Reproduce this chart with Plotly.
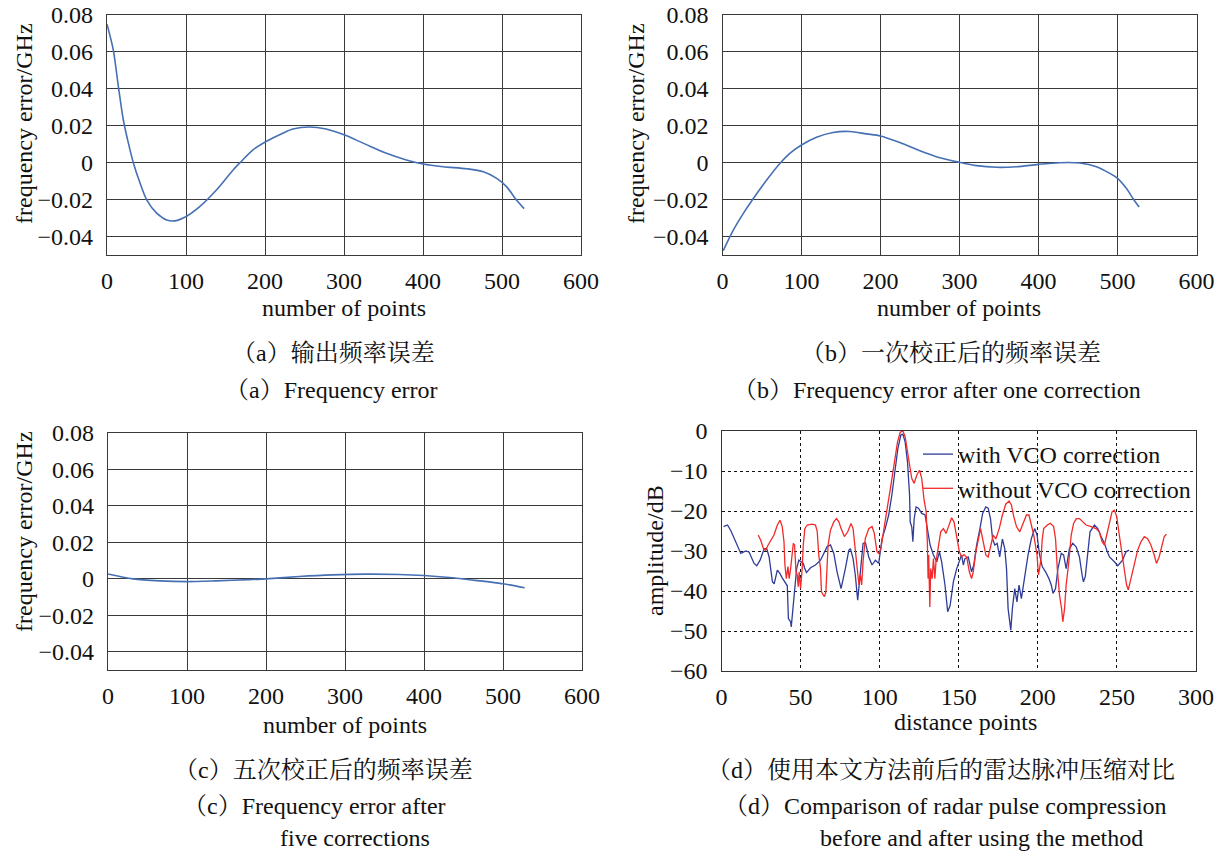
import plotly.graph_objects as go

# ---------------- data ----------------
a_x = [0, 8, 14.3, 20.6, 27, 33.3, 41.8, 50.2, 62.9, 75.5, 86, 100.8, 117.7, 138.8, 159.9, 168.4, 185.2, 202,
       223.2, 235.2, 256.2, 277.3, 300, 324.2, 353.7, 379, 400, 425.7, 455.3, 476.4, 493.3, 506, 518.6, 528]
a_y = [0.075, 0.061, 0.0415, 0.0234, 0.0107, 0, -0.011, -0.0201, -0.0273, -0.031, -0.0315, -0.029, -0.0237,
       -0.0147, -0.0038, 0, 0.0071, 0.0116, 0.0161, 0.0182, 0.0193, 0.0182, 0.0151, 0.0106, 0.0051, 0.0015,
       -0.0007, -0.0022, -0.0033, -0.0049, -0.0085, -0.0131, -0.0204, -0.0249]

b_x = [1, 13.5, 26.2, 38.8, 55.7, 72.6, 85.2, 100, 119, 140, 161.2, 182.3, 200, 224.5, 249.8, 275.1, 300,
       321.5, 346.8, 372.2, 400, 427, 452.3, 473.4, 490.3, 500, 511.4, 519.8, 527.4]
b_y = [-0.0476, -0.0367, -0.0276, -0.0195, -0.0095, -0.0004, 0.0051, 0.0096, 0.0138, 0.0164, 0.0169, 0.0156,
       0.0145, 0.0109, 0.0065, 0.0027, 0.0002, -0.0016, -0.0025, -0.0022, -0.0009, 0, -0.0002, -0.0022,
       -0.0058, -0.0085, -0.014, -0.0195, -0.024]

c_x = [0, 31.6, 65.4, 100, 136.7, 179, 200, 242.2, 284.4, 326.6, 368.8, 400, 432.5, 457.8, 500, 527.4]
c_y = [0.0027, 0, -0.0011, -0.0015, -0.0011, -0.0004, 0, 0.0013, 0.0022, 0.0026, 0.0024, 0.0018, 0.0007,
       -0.0005, -0.0027, -0.0049]

d_with_x = [1.3, 3.8, 6, 10.1, 12.2, 15.4, 17.5, 20.6, 22.3, 24.4,
            27, 28.6, 30.1, 32.2, 33.3, 35.3, 36.9, 38.4, 40.6, 41.6,
            42.3, 43.7, 44.1, 45.4, 46.2, 47.5, 48.9, 50, 51.7, 52.5,
            53.7, 56.3, 59.4, 62.6, 64.7, 66.8, 68.9, 71, 73.1, 75.6,
            78.3, 80.5, 81.5, 83.2, 84.6, 86.1, 87.4, 89.5, 91, 93.1,
            95.2, 97.3, 99.4, 100.4, 101.5, 103.5, 105.7, 107.7, 109.8, 111.5,
            113.4, 114.7, 116.1, 117.6, 118.9, 119.3, 120.3, 121, 121.8, 123,
            124.5, 126.6, 128.7, 130.2, 131.9, 134, 136.1, 137.8, 139.2, 141.3,
            143, 144.5, 146.6, 148.7, 150.4, 151.8, 152.9, 153.9, 156, 158.1,
            159.5, 161.3, 163.4, 165.1, 167.1, 168.6, 170.1, 171.4, 172.8, 174.3,
            175.9, 177.6, 179.1, 180.2, 181.2, 182.2, 182.9, 183.9, 185.4, 186.8,
            188.1, 189.6, 191.7, 193.8, 195.9, 198, 199.5, 201.1, 202.8, 204.9,
            207, 208.5, 209.6, 211.2, 212.7, 214.8, 216.3, 217.9, 220, 222.1,
            224.3, 226.3, 228, 228.8, 230, 231.6, 233, 235.8, 237.9, 240,
            242.1, 243.6, 245.3, 248.4, 250.5, 253.6, 255.7, 257.8]
d_with_y = [-23.9, -23.5, -25, -28.5, -30.6, -30, -30.3, -33.1, -33.7, -32.3,
            -29.4, -29.4, -31.5, -37.7, -38.2, -34.8, -35.6, -36.7, -38.1, -38.7,
            -46.9, -47.7, -49, -43.5, -38.3, -34.4, -32.3, -32.6, -33.1, -34.2,
            -35.4, -34.2, -33.5, -32.3, -30.6, -28.9, -28.5, -30.6, -35.3, -39.4,
            -34.4, -29.8, -29.4, -31.9, -36, -42.3, -36.9, -28.1, -27.9, -31.5,
            -33.5, -32.3, -33.1, -30.2, -26.9, -24.4, -21, -16, -10.2, -4.4,
            -1.0, -0.8, -2.7, -7.7, -16, -22.7, -24, -27.7, -22, -19,
            -19.3, -20.6, -21, -24.4, -28.5, -31, -32.7, -30.2, -32.7, -38.5,
            -45.2, -43.7, -37.7, -34.4, -32.3, -31, -33.5, -31.9, -31.5, -35.2,
            -33.5, -28.5, -24.4, -20.6, -19, -19.3, -22, -27, -28.5, -28.1,
            -31.5, -27, -29.4, -34.4, -44.4, -47.7, -49.8, -44.4, -39.4, -42.7,
            -38.5, -41.9, -36.4, -31, -26.9, -24.4, -26, -31, -33.9, -35.2,
            -36.9, -38.5, -40.6, -39.4, -34.4, -30.6, -31, -34.4, -29.4, -28.1,
            -29, -31.5, -36, -37.7, -36.4, -31, -25.2, -23.5, -24.4, -26.4,
            -28.1, -29.8, -31.5, -32.7, -33.7, -32.3, -30.2, -29.8]

d_without_x = [23.2, 24.8, 26.5, 27.8, 29.5, 31.1, 33.2, 35.3, 37, 38.4,
               39.5, 40.1, 41, 42, 42.8, 43.7, 44.7, 45.4, 46.2, 47.1,
               47.9, 48.5, 49.1, 50, 51, 51.7, 52.7, 54.2, 57.4, 59.4,
               60.5, 61.5, 62.6, 63.2, 64.3, 65.1, 66, 66.8, 67.4, 68.9,
               71, 72.7, 74.2, 75.6, 77.7, 79.8, 81.9, 83.2, 84.6, 86.1,
               86.9, 87.8, 88.6, 89.5, 90.9, 93.1, 95.2, 96.6, 98.3, 99.4,
               100.8, 102.1, 103.5, 105, 106.7, 108.4, 109.8, 111.3, 113, 114.7,
               116.1, 117.6, 118.9, 120.3, 121.8, 123.5, 125.2, 126.6, 128.1, 129.4,
               130.2, 130.6, 131, 131.7, 132.3, 133.2, 134, 134.9, 135.6, 137.1,
               138.6, 140.3, 142, 143.5, 145.5, 147, 148.7, 150.4, 151.8, 153.3,
               155, 156.7, 158.1, 159.2, 160.8, 162.3, 163.8, 165.5, 167.1, 168.6,
               169.7, 171.8, 173.4, 175.6, 177.6, 179.7, 181.8, 183.3, 184.8, 186.5,
               188.6, 190.7, 192.8, 194.4, 195.9, 197.4, 199.5, 200.4, 201.1, 202,
               202.8, 203.7, 206, 207.9, 210, 211.2, 212.3, 213.7, 215, 215.8,
               216.9, 217.9, 219.6, 221.1, 222.6, 224.3, 226.3, 228.4, 230.5, 233.7,
               236.8, 238.9, 240.6, 242.1, 243.6, 245.2, 246.9, 248.4, 249.9, 251.5,
               253.2, 254.7, 256.1, 257.2, 258.8, 261, 263.1, 265.2, 267.3, 269.4,
               271.5, 273.6, 275, 276.7, 278.4, 279.9, 281.3]
d_without_y = [-26, -27.3, -29.4, -29.8, -28.5, -27.3, -26, -23.5, -22.3, -23.9,
               -27.7, -33.5, -36.9, -33.9, -36.9, -34.4, -29.4, -28.1, -28.5, -35.2,
               -36, -38.9, -35.2, -39.4, -34.4, -28.5, -24.4, -23.5, -23.3, -23.5,
               -25, -31, -34.4, -40.2, -41, -41.4, -40.2, -34.4, -28.5, -24.8,
               -22.7, -21.9, -22.7, -24.4, -26.4, -25.2, -23.1, -24.4, -30.2, -35.2,
               -38.5, -36, -38.5, -32.7, -26.9, -24.4, -23.9, -25.6, -30.2, -30.6,
               -29.4, -26, -22, -18.7, -14.6, -10.2, -6.5, -2.7, -0.3, 0,
               -1.4, -5.2, -8.5, -11.9, -13.1, -11, -9.8, -11.9, -17.3, -20.2,
               -28.5, -36.9, -31, -44, -34.4, -36.9, -31.9, -36.9, -32.7, -28.5,
               -25.2, -24.4, -25.6, -23.9, -21.7, -22.7, -26, -30.2, -31.5, -30.9,
               -31.5, -35.2, -36.9, -35.2, -30.2, -27, -24.4, -27.7, -31, -31.5,
               -29.4, -26, -27, -24.4, -21, -18.3, -17.5, -18.5, -21.4, -23.9,
               -25.2, -23.1, -21, -21, -23.5, -26, -31, -36, -34.4, -31.9,
               -27, -24.4, -23.5, -23.1, -23.9, -27, -34.4, -41, -44.4, -47.7,
               -44.4, -38.5, -32.7, -26, -23.1, -21.9, -21.9, -22.7, -23.5, -23.9,
               -24.4, -25.2, -27.7, -28.5, -26, -22.7, -20.2, -19.8, -21.4, -26,
               -30.2, -34.4, -38.5, -39.7, -36.9, -32.7, -29.8, -27.7, -26.4, -26.9,
               -28.5, -31, -33.1, -31.5, -28.5, -26.4, -25.8]

freq_x_ticks = [0, 100, 200, 300, 400, 500, 600]
freq_y_ticks = [-0.04, -0.02, 0, 0.02, 0.04, 0.06, 0.08]
freq_y_labels = ["\u22120.04", "\u22120.02", "0", "0.02", "0.04", "0.06", "0.08"]
dist_x_ticks = [0, 50, 100, 150, 200, 250, 300]
amp_y_ticks = [-60, -50, -40, -30, -20, -10, 0]
amp_y_labels = ["\u221260", "\u221250", "\u221240", "\u221230", "\u221220", "\u221210", "0"]

captions = [
    ("（a）输出频率误差", 333, 353),
    ("（a）Frequency error", 331, 390),
    ("（b）一次校正后的频率误差", 951, 353),
    ("（b）Frequency error after one correction", 937, 390),
    ("（c）五次校正后的频率误差", 323, 770),
    ("（c）Frequency error after", 314, 806),
    ("five corrections", 355, 838),
    ("（d）使用本文方法前后的雷达脉冲压缩对比", 941, 770),
    ("（d）Comparison of radar pulse compression", 945, 806),
    ("before and after using the method", 982, 838),
]

# ---------------- layout helpers ----------------
W, H = 1225, 851
FONT = "Liberation Serif, Times New Roman, Noto Serif CJK SC, Noto Sans CJK SC, serif"
GRID = "#3a3a3a"
CURVE = "#4670b4"


def dx(p0, p1):
    return [p0 / W, p1 / W]


def dy(p0, p1):  # p0 top px, p1 bottom px
    return [1 - p1 / H, 1 - p0 / H]


fig = go.Figure()

curve_sets = [(a_x, a_y, "x", "y"), (b_x, b_y, "x2", "y2"), (c_x, c_y, "x3", "y3")]
for xs, ys, xa, ya in curve_sets:
    fig.add_trace(go.Scatter(x=xs, y=ys, xaxis=xa, yaxis=ya, mode="lines",
                             line=dict(color=CURVE, width=1.6, shape="spline", smoothing=0.8),
                             showlegend=False, hoverinfo="skip"))

fig.add_trace(go.Scatter(x=d_with_x, y=d_with_y, xaxis="x4", yaxis="y4", mode="lines",
                         name="with VCO correction", line=dict(color="#2f3c98", width=1.3)))
fig.add_trace(go.Scatter(x=d_without_x, y=d_without_y, xaxis="x4", yaxis="y4", mode="lines",
                         name="without VCO correction", line=dict(color="#f22a2a", width=1.3)))

tickfont = dict(family=FONT, size=24, color="#111")


def freq_axes(xdom, ydom, xa_anchor, ya_anchor):
    xa = dict(domain=xdom, range=[0, 600], anchor=ya_anchor, tickvals=freq_x_ticks,
              showgrid=True, gridcolor=GRID, gridwidth=1.3, zeroline=False,
              showline=True, linecolor=GRID, linewidth=1.3, mirror=True, ticks="",
              tickfont=tickfont, ticklabelstandoff=4)
    ya = dict(domain=ydom, range=[-0.05, 0.08], anchor=xa_anchor, tickvals=freq_y_ticks,
              ticktext=freq_y_labels, showgrid=True, gridcolor=GRID, gridwidth=1.3, zeroline=False,
              showline=True, linecolor=GRID, linewidth=1.3, mirror=True, ticks="",
              tickfont=tickfont, ticklabelstandoff=8)
    return xa, ya


xa1, ya1 = freq_axes(dx(107, 581), dy(15, 255), "x", "y")
xa2, ya2 = freq_axes(dx(722.5, 1196.5), dy(15, 255), "x2", "y2")
xa3, ya3 = freq_axes(dx(108, 582), dy(433, 670), "x3", "y3")

xa4 = dict(domain=dx(721.5, 1196), range=[0, 300], anchor="y4", tickvals=dist_x_ticks,
           showgrid=True, gridcolor="#111", gridwidth=1, griddash="dot", zeroline=False,
           showline=True, linecolor="#333", linewidth=1.3, mirror=True, ticks="",
           tickfont=tickfont, ticklabelstandoff=4)
ya4 = dict(domain=dy(431, 671), range=[-60, 0], anchor="x4", tickvals=amp_y_ticks,
           ticktext=amp_y_labels, showgrid=True, gridcolor="#111", gridwidth=1, griddash="dot",
           zeroline=False, showline=True, linecolor="#333", linewidth=1.3, mirror=True, ticks="",
           tickfont=tickfont, ticklabelstandoff=8)

annotations = []
for text, px, py in captions:
    annotations.append(dict(text=text, x=px / W, y=1 - py / H, xref="paper", yref="paper",
                            xanchor="center", yanchor="middle", showarrow=False,
                            font=dict(family=FONT, size=24, color="#111")))

axis_titles = [
    ("frequency error/GHz", 24, 124, -90),
    ("frequency error/GHz", 636, 124, -90),
    ("frequency error/GHz", 24, 532, -90),
    ("amplitude/dB", 655, 551, -90),
    ("number of points", 344, 308, 0),
    ("number of points", 959, 308, 0),
    ("number of points", 345, 725, 0),
    ("distance points", 965, 722, 0),
]
for text, px, py, ang in axis_titles:
    annotations.append(dict(text=text, x=px / W, y=1 - py / H, xref="paper", yref="paper",
                            xanchor="center", yanchor="middle", showarrow=False, textangle=ang,
                            font=dict(family=FONT, size=24, color="#111")))

fig.update_layout(
    width=W, height=H, margin=dict(l=0, r=0, t=0, b=0, autoexpand=False),
    paper_bgcolor="white", plot_bgcolor="white",
    font=dict(family=FONT, size=24, color="#111"),
    xaxis=xa1, yaxis=ya1, xaxis2=xa2, yaxis2=ya2, xaxis3=xa3, yaxis3=ya3,
    xaxis4=xa4, yaxis4=ya4,
    annotations=annotations,
    legend=dict(x=918 / W, y=1 - 432 / H, xanchor="left", yanchor="top",
                bgcolor="rgba(0,0,0,0)", borderwidth=0,
                font=dict(family=FONT, size=24, color="#111"), tracegroupgap=0),
)

fig.write_html("out.html", config={"displayModeBar": False},
               post_script="document.body.style.margin='0px';document.body.style.overflow='hidden';")
